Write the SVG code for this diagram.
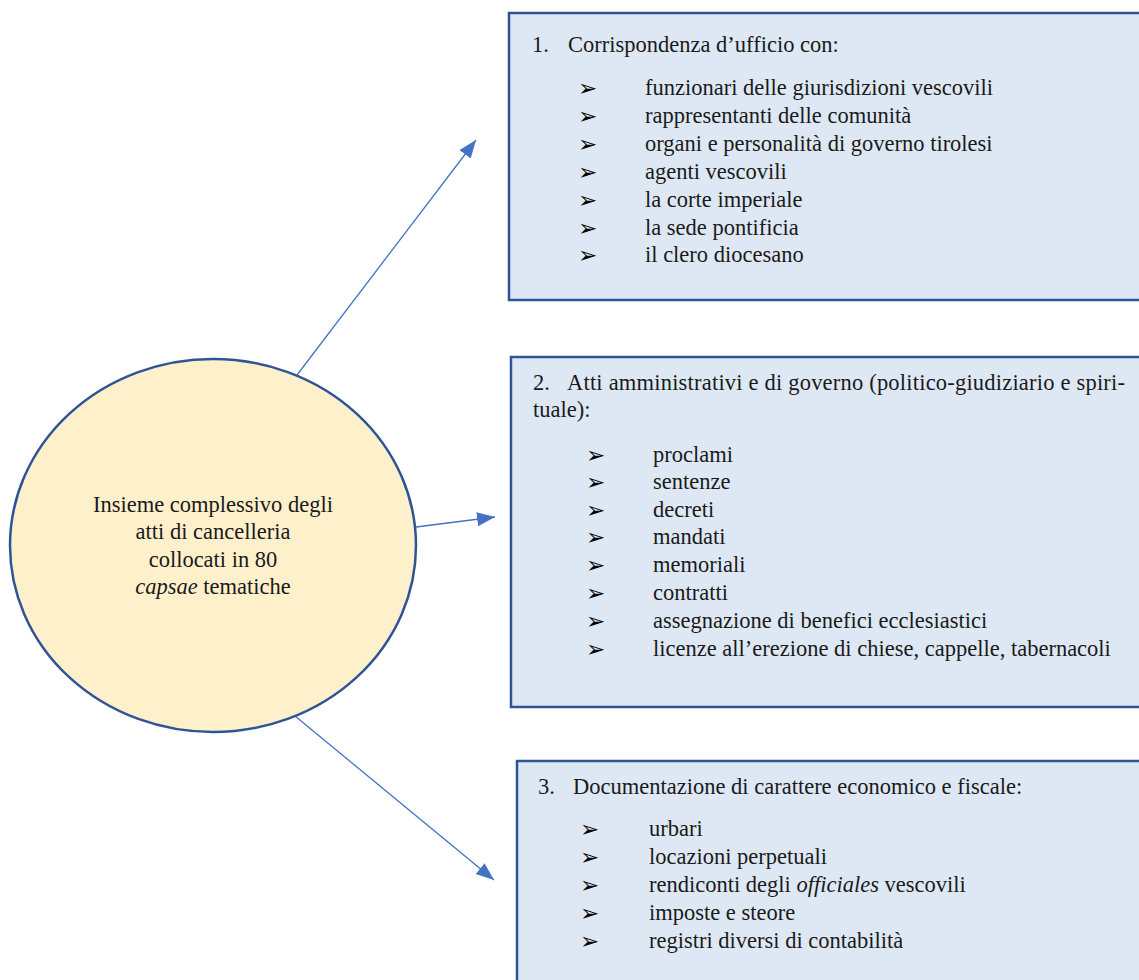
<svg xmlns="http://www.w3.org/2000/svg" width="1139" height="980" viewBox="0 0 1139 980">
  <style>
    .box { fill: #dee8f5; stroke: #2f5496; stroke-width: 2.5; }
    .hub { fill: #fff0cc; stroke: #2f5496; stroke-width: 2.5; }
    .t { font-family: "Liberation Serif", "Times New Roman", serif; font-size: 22.5px; fill: #1a1a1a; }
    .c { text-anchor: middle; }
    .b { font-family: "DejaVu Sans", sans-serif; font-size: 23px; fill: #000; }
    .link { stroke: #4472c4; stroke-width: 1.3; fill: none; marker-end: url(#head); }
  </style>
  <defs>
    <marker id="head" markerUnits="userSpaceOnUse" markerWidth="20" markerHeight="16" refX="18" refY="7" orient="auto">
      <path d="M0,0 L18,7 L0,14 Z" fill="#4472c4"/>
    </marker>
  </defs>

  <rect width="1139" height="980" fill="#ffffff"/>

  <!-- connectors -->
  <g id="connectors">
    <line class="link" x1="297" y1="375" x2="476" y2="140"/>
    <line class="link" x1="416" y1="527" x2="495" y2="517"/>
    <line class="link" x1="295" y1="716" x2="494" y2="880"/>
  </g>

  <!-- central node -->
  <g id="hub">
    <ellipse class="hub" cx="213" cy="545.5" rx="203" ry="186.5"/>
    <text class="t c" x="213" y="512">Insieme complessivo degli</text>
    <text class="t c" x="213" y="539">atti di cancelleria</text>
    <text class="t c" x="213" y="567">collocati in 80</text>
    <text class="t c" x="213" y="594"><tspan font-style="italic">capsae</tspan> tematiche</text>
  </g>

  <!-- box 1 -->
  <g id="box1">
    <rect class="box" x="509" y="13" width="640" height="287"/>
    <text class="t" x="532" y="52" font-size="25">1.</text>
    <text class="t" x="568" y="52">Corrispondenza d’ufficio con:</text>
    <g class="b">
      <text x="578" y="96">➢</text>
      <text x="578" y="124">➢</text>
      <text x="578" y="152">➢</text>
      <text x="578" y="180">➢</text>
      <text x="578" y="208">➢</text>
      <text x="578" y="236">➢</text>
      <text x="578" y="263">➢</text>
    </g>
    <text class="t" x="645" y="95">funzionari delle giurisdizioni vescovili</text>
    <text class="t" x="645" y="123">rappresentanti delle comunità</text>
    <text class="t" x="645" y="151">organi e personalità di governo tirolesi</text>
    <text class="t" x="645" y="179">agenti vescovili</text>
    <text class="t" x="645" y="207">la corte imperiale</text>
    <text class="t" x="645" y="235">la sede pontificia</text>
    <text class="t" x="645" y="262">il clero diocesano</text>
  </g>

  <!-- box 2 -->
  <g id="box2">
    <rect class="box" x="511" y="357" width="640" height="350"/>
    <text class="t" x="533" y="390">2.</text>
    <text class="t" x="567" y="390" textLength="558" lengthAdjust="spacing">Atti amministrativi e di governo (politico-giudiziario e spiri-</text>
    <text class="t" x="533" y="417">tuale):</text>
    <g class="b">
      <text x="586" y="463">➢</text>
      <text x="586" y="490">➢</text>
      <text x="586" y="518">➢</text>
      <text x="586" y="545">➢</text>
      <text x="586" y="573">➢</text>
      <text x="586" y="601">➢</text>
      <text x="586" y="629">➢</text>
      <text x="586" y="657">➢</text>
    </g>
    <text class="t" x="653" y="462">proclami</text>
    <text class="t" x="653" y="489">sentenze</text>
    <text class="t" x="653" y="517">decreti</text>
    <text class="t" x="653" y="544">mandati</text>
    <text class="t" x="653" y="572">memoriali</text>
    <text class="t" x="653" y="600">contratti</text>
    <text class="t" x="653" y="628">assegnazione di benefici ecclesiastici</text>
    <text class="t" x="653" y="656">licenze all’erezione di chiese, cappelle, tabernacoli</text>
  </g>

  <!-- box 3 -->
  <g id="box3">
    <rect class="box" x="517" y="761" width="640" height="240"/>
    <text class="t" x="538" y="794">3.</text>
    <text class="t" x="573" y="794">Documentazione di carattere economico e fiscale:</text>
    <g class="b">
      <text x="580" y="837">➢</text>
      <text x="580" y="865">➢</text>
      <text x="580" y="893">➢</text>
      <text x="580" y="921">➢</text>
      <text x="580" y="949">➢</text>
    </g>
    <text class="t" x="649" y="836">urbari</text>
    <text class="t" x="649" y="864">locazioni perpetuali</text>
    <text class="t" x="649" y="892">rendiconti degli <tspan font-style="italic">officiales</tspan> vescovili</text>
    <text class="t" x="649" y="920">imposte e steore</text>
    <text class="t" x="649" y="948">registri diversi di contabilità</text>
  </g>
</svg>
